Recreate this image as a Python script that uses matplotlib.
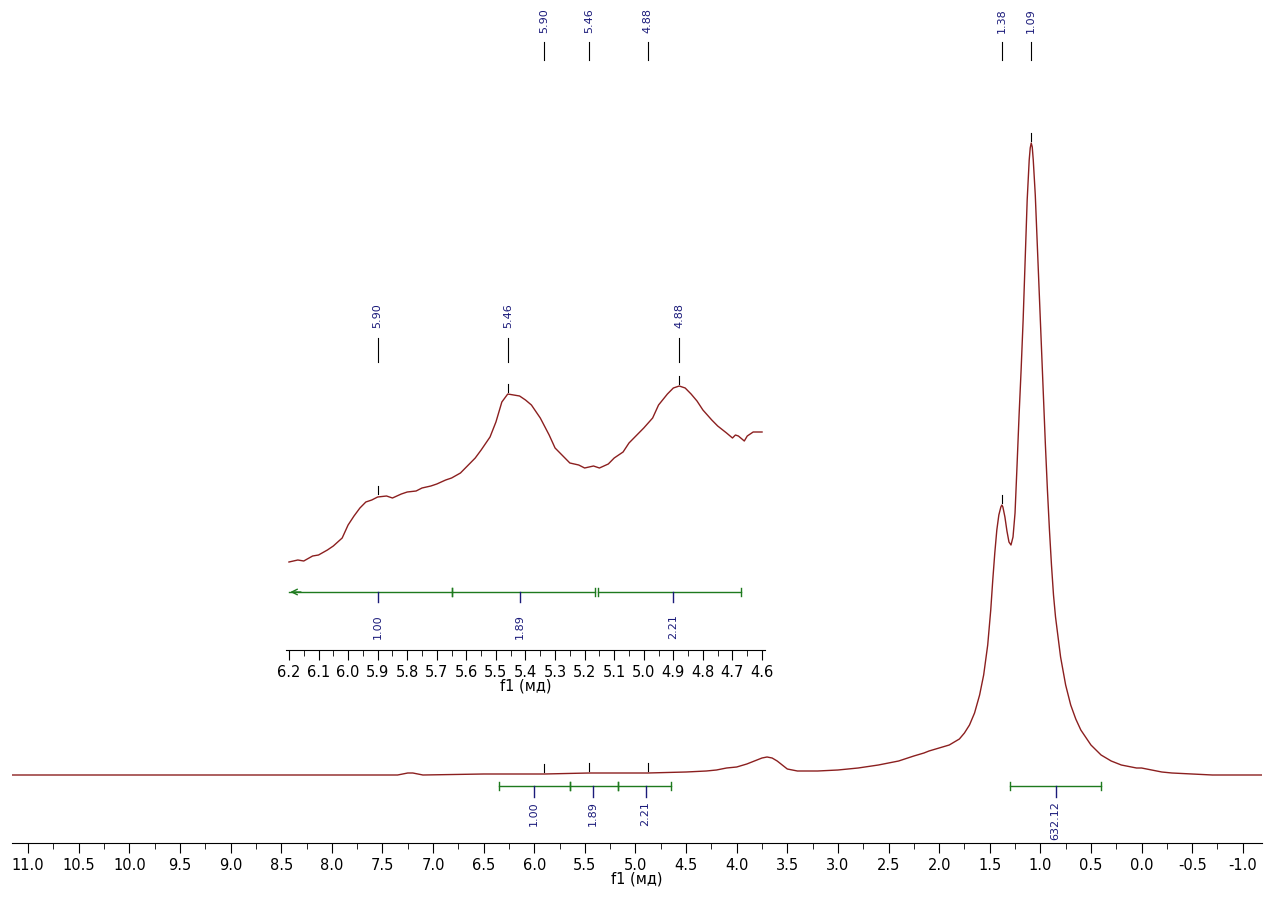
import matplotlib
matplotlib.use('Agg')
import matplotlib.pyplot as plt
from matplotlib.ticker import MultipleLocator

plt.rcParams['axes.unicode_minus'] = False

# 主谱 (ppm, 强度)
main_ppm = [11.16, 8.0, 7.35, 7.25, 7.2, 7.1, 6.5, 5.9, 5.46, 4.88, 4.5, 4.3, 4.2, 4.1, 4.0, 3.9,
            3.85, 3.8, 3.75, 3.7, 3.65, 3.6, 3.55, 3.5, 3.45, 3.4, 3.2, 3.0, 2.8, 2.6, 2.4, 2.25,
            2.15, 2.1, 2.0, 1.9, 1.8, 1.75, 1.7, 1.65, 1.6, 1.56, 1.52, 1.49, 1.47, 1.45, 1.43,
            1.41, 1.39, 1.38, 1.37, 1.35, 1.33, 1.31, 1.29, 1.27, 1.25, 1.23, 1.21, 1.19, 1.17,
            1.15, 1.13, 1.11, 1.10, 1.09, 1.08, 1.07, 1.05, 1.03, 1.01, 0.99, 0.97, 0.95, 0.93,
            0.91, 0.89, 0.87, 0.85, 0.8, 0.75, 0.7, 0.65, 0.6, 0.5, 0.4, 0.3, 0.2, 0.1, 0.05,
            0.0, -0.1, -0.2, -0.3, -0.5, -0.7, -1.19]
main_int = [0, 0, 0, 2, 2, 0, 1, 1, 2, 2, 3, 4, 5, 7, 8, 11,
            13, 15, 17, 18, 17, 14, 10, 6, 5, 4, 4, 5, 7, 10, 14, 19,
            22, 24, 27, 30, 36, 42, 50, 62, 80, 100, 130, 165, 195, 222, 245,
            260, 268, 270, 268, 258, 244, 233, 230, 238, 262, 310, 360, 405, 455,
            515, 575, 615, 627, 632, 628, 615, 580, 530, 480, 430, 380, 330, 285,
            245, 210, 180, 158, 118, 90, 70, 56, 45, 30, 20, 14, 10, 8, 7,
            7, 5, 3, 2, 1, 0, 0]

# 局部放大 (ppm, 强度)
ins_ppm = [6.2, 6.17, 6.15, 6.12, 6.1, 6.07, 6.05, 6.02, 6.0, 5.98, 5.96, 5.94, 5.92, 5.9, 5.87,
           5.85, 5.82, 5.8, 5.77, 5.75, 5.72, 5.7, 5.67, 5.65, 5.62, 5.6, 5.57, 5.55, 5.52, 5.5,
           5.48, 5.46, 5.44, 5.42, 5.4, 5.38, 5.35, 5.32, 5.3, 5.27, 5.25, 5.22, 5.2, 5.17, 5.15,
           5.12, 5.1, 5.07, 5.05, 5.02, 5.0, 4.97, 4.95, 4.92, 4.9, 4.88, 4.86, 4.84, 4.82, 4.8,
           4.77, 4.75, 4.72, 4.7, 4.69, 4.68, 4.66, 4.65, 4.63, 4.6]
ins_int = [88, 90, 89, 94, 95, 100, 104, 112, 125, 134, 142, 148, 150, 153, 154,
           152, 156, 158, 159, 162, 164, 166, 170, 172, 177, 183, 192, 200, 213, 228,
           248, 256, 255, 254, 250, 245, 232, 215, 202, 193, 187, 185, 182, 184, 182,
           186, 192, 198, 207, 216, 222, 232, 245, 256, 262, 264, 262, 256, 249, 240,
           230, 224, 217, 212, 215, 214, 209, 214, 218, 218]

main_peaks = [5.90, 5.46, 4.88, 1.38, 1.09]
main_peak_h = [1, 2, 2, 270, 632]
ins_peaks = [5.90, 5.46, 4.88]
ins_peak_h = [154, 256, 264]

main_integrals = [(6.35, 5.65, 6.00, '1.00'), (5.65, 5.17, 5.42, '1.89'), (5.17, 4.65, 4.90, '2.21'),
                  (1.30, 0.40, 0.85, '632.12')]
ins_integrals = [(6.2, 5.65, 5.90, '1.00'), (5.65, 5.165, 5.42, '1.89'), (5.155, 4.67, 4.90, '2.21')]

line_c = '#8b1f1f'
int_c = '#1e7a1e'
lab_c = '#1a1a7a'
W, H = 1272, 897

fig = plt.figure(figsize=(12.72, 8.97), dpi=100)
ax = fig.add_axes([12 / W, 1 - 843 / H, 1250 / W, 843 / H])
ax.plot(main_ppm, main_int, color=line_c, lw=1)
ax.set_xlim(11.16, -1.19)
ax.set_ylim(-68, 775)
for s in ['top', 'left', 'right']:
    ax.spines[s].set_visible(False)
ax.set_yticks([])
ax.xaxis.set_major_locator(MultipleLocator(0.5))
ax.xaxis.set_minor_locator(MultipleLocator(0.25))
ax.tick_params(axis='x', which='major', length=7, labelsize=10.5)
ax.tick_params(axis='x', which='minor', length=4)
ax.set_xlabel('f1 (мд)', fontsize=10.5, labelpad=-1)

# 主谱峰标注
for p, h in zip(main_peaks, main_peak_h):
    ax.plot([p, p], [h + 2, h + 10], color='black', lw=0.8)
    ax.plot([p, p], [733, 715], color='black', lw=0.8, clip_on=False)
    ax.text(p, 742, f'{p:.2f}', rotation=90, ha='center', va='bottom', fontsize=8, color=lab_c)
# 主谱积分
for a, b, m, t in main_integrals:
    ax.plot([a, b], [-11, -11], color=int_c, lw=1)
    for e in (a, b):
        ax.plot([e, e], [-7, -15], color=int_c, lw=1)
    ax.plot([m, m], [-11, -22], color=lab_c, lw=1)
    ax.text(m, -26, t, rotation=90, ha='center', va='top', fontsize=8, color=lab_c)

# 局部放大图
ia = fig.add_axes([286 / W, 1 - 650 / H, 479 / W, 320 / H])
ia.patch.set_alpha(0)
ia.plot(ins_ppm, ins_int, color=line_c, lw=1)
ia.set_xlim(6.21, 4.59)
ia.set_ylim(0, 320)
for s in ['top', 'left', 'right']:
    ia.spines[s].set_visible(False)
ia.set_yticks([])
ia.xaxis.set_major_locator(MultipleLocator(0.1))
ia.xaxis.set_minor_locator(MultipleLocator(0.05))
ia.tick_params(axis='x', which='major', length=7, labelsize=10.5)
ia.tick_params(axis='x', which='minor', length=4)
ia.set_xlabel('f1 (мд)', fontsize=10.5, labelpad=-1)
for p, h in zip(ins_peaks, ins_peak_h):
    ia.plot([p, p], [h + 2, h + 10], color='black', lw=0.8)
    ia.plot([p, p], [312, 288], color='black', lw=0.8, clip_on=False)
    ia.text(p, 322, f'{p:.2f}', rotation=90, ha='center', va='bottom', fontsize=8, color=lab_c)
for a, b, m, t in ins_integrals:
    ia.plot([a, b], [58, 58], color=int_c, lw=1)
    for e in (a, b):
        if e < 6.19:
            ia.plot([e, e], [54, 62], color=int_c, lw=1)
    ia.plot([m, m], [58, 48], color=lab_c, lw=1)
    ia.text(m, 36, t, rotation=90, ha='center', va='top', fontsize=8, color=lab_c)
ia.annotate('', xy=(6.205, 58), xytext=(6.15, 58),
            arrowprops=dict(arrowstyle='->', color=int_c, lw=1))

fig.savefig('out.png', dpi=100)
